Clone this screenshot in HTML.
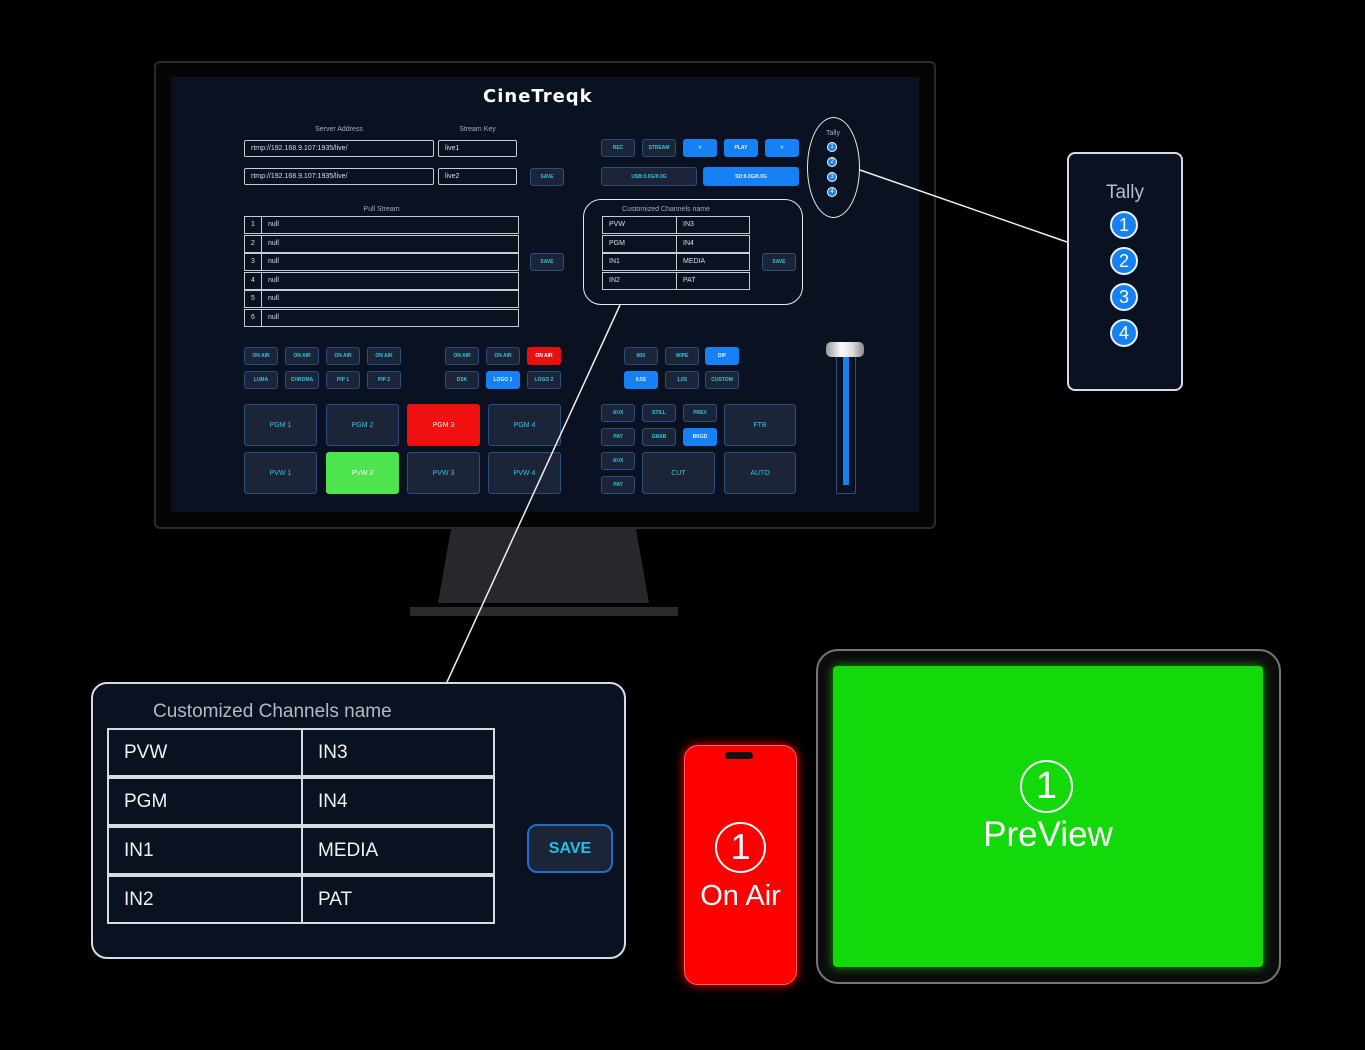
<!DOCTYPE html>
<html><head><meta charset="utf-8"><style>
*{margin:0;padding:0;box-sizing:border-box}
body{width:1365px;height:1050px;background:#000;position:relative;overflow:hidden;font-family:"Liberation Sans",sans-serif}
.a{position:absolute}
.b{position:absolute;height:18px;width:34px;background:#1b2537;border:1px solid #2b4e80;border-radius:3px;color:#2ec6ea;font-size:5px;font-weight:bold;display:flex;align-items:center;justify-content:center;white-space:nowrap}
.bl{background:#1680f5;border-color:#1680f5;color:#e8f4ff}
.big{width:73px;height:42px;font-size:7px;font-weight:normal}
.in{position:absolute;height:17px;border:1px solid #c8ccd2;border-radius:2px;color:#dde;font-size:7px;padding-left:6px;line-height:15px;background:#0a1120}
.lbl{position:absolute;color:#aab;font-size:7px;text-align:center}
.row{position:absolute;left:244px;width:275px;height:18px;border:1px solid #c8ccd2;color:#dde;font-size:7px;line-height:16px}
.row span{display:inline-block;width:17px;text-align:center;border-right:1px solid #c8ccd2;margin-right:6px}
.ct{position:absolute;border:1px solid #c8ccd2;color:#dde;font-size:7px;line-height:16px;padding-left:6px;height:18px}
.bt{position:absolute;border:2px solid #d8dce2;color:#f2f2f2;font-size:19px;height:49px;line-height:45px;padding-left:15px}
.tc{position:absolute;width:28px;height:28px;border-radius:50%;background:#1680f5;border:2px solid #e8f0ff;color:#fff;font-size:18px;text-align:center;line-height:24px}
</style></head><body>
<!-- monitor -->
<div class="a" style="left:154px;top:61px;width:782px;height:468px;background:#050505;border:2px solid #2a2a2c;border-radius:6px"></div>
<div class="a" style="left:171px;top:77px;width:748px;height:435px;background:#0a1120"></div>
<svg class="a" style="left:0;top:0" width="1365" height="1050">
<polygon points="451,529 636,529 649,603 438,603" fill="#27282c"/>
<rect x="410" y="607" width="268" height="9" fill="#2a2b2f"/>
</svg>
<div class="a" style="left:483px;top:86px;color:#fff;font-size:18px;font-weight:bold;letter-spacing:1px;font-family:'DejaVu Sans',sans-serif">CineTreqk</div>

<div class="lbl" style="left:244px;top:126px;width:190px">Server Address</div>
<div class="lbl" style="left:438px;top:126px;width:79px">Stream Key</div>
<div class="in" style="left:244px;top:140px;width:190px">rtmp://192.168.9.107:1935/live/</div>
<div class="in" style="left:438px;top:140px;width:79px">live1</div>
<div class="in" style="left:244px;top:168px;width:190px">rtmp://192.168.9.107:1935/live/</div>
<div class="in" style="left:438px;top:168px;width:79px">live2</div>
<div class="b" style="left:530px;top:168px">SAVE</div>

<div class="b" style="left:601px;top:139px">REC</div>
<div class="b" style="left:642px;top:139px">STREAM</div>
<div class="b bl" style="left:683px;top:139px">&lt;</div>
<div class="b bl" style="left:724px;top:139px">PLAY</div>
<div class="b bl" style="left:765px;top:139px">&gt;</div>
<div class="b" style="left:601px;top:167px;width:96px;height:19px">USB:0.0G/0.0G</div>
<div class="b bl" style="left:703px;top:167px;width:96px;height:19px">SD:0.0G/0.0G</div>

<div class="a" style="left:807px;top:117px;width:53px;height:101px;border:1.5px solid #e8e8e8;border-radius:50%"></div>
<div class="lbl" style="left:807px;top:130px;width:52px;font-size:7px">Tally</div>
<div class="a" style="left:827px;top:142px;width:10px;height:10px;border-radius:50%;background:#1680f5;border:1px solid #fff;color:#fff;font-size:6px;text-align:center;line-height:8px">1</div>
<div class="a" style="left:827px;top:157px;width:10px;height:10px;border-radius:50%;background:#1680f5;border:1px solid #fff;color:#fff;font-size:6px;text-align:center;line-height:8px">2</div>
<div class="a" style="left:827px;top:172px;width:10px;height:10px;border-radius:50%;background:#1680f5;border:1px solid #fff;color:#fff;font-size:6px;text-align:center;line-height:8px">3</div>
<div class="a" style="left:827px;top:187px;width:10px;height:10px;border-radius:50%;background:#1680f5;border:1px solid #fff;color:#fff;font-size:6px;text-align:center;line-height:8px">4</div>

<div class="lbl" style="left:244px;top:206px;width:275px">Pull Stream</div>
<div class="row" style="top:216px"><span>1</span>null</div>
<div class="row" style="top:235px"><span>2</span>null</div>
<div class="row" style="top:253px"><span>3</span>null</div>
<div class="row" style="top:272px"><span>4</span>null</div>
<div class="row" style="top:290px"><span>5</span>null</div>
<div class="row" style="top:309px"><span>6</span>null</div>
<div class="b" style="left:530px;top:253px">SAVE</div>

<div class="a" style="left:583px;top:199px;width:220px;height:106px;border:1.5px solid #e8e8e8;border-radius:18px"></div>
<div class="lbl" style="left:583px;top:206px;width:166px">Customized Channels name</div>
<div class="ct" style="left:602px;top:216px;width:75px">PVW</div><div class="ct" style="left:676px;top:216px;width:74px">IN3</div>
<div class="ct" style="left:602px;top:235px;width:75px">PGM</div><div class="ct" style="left:676px;top:235px;width:74px">IN4</div>
<div class="ct" style="left:602px;top:253px;width:75px">IN1</div><div class="ct" style="left:676px;top:253px;width:74px">MEDIA</div>
<div class="ct" style="left:602px;top:272px;width:75px">IN2</div><div class="ct" style="left:676px;top:272px;width:74px">PAT</div>
<div class="b" style="left:762px;top:253px">SAVE</div>

<div class="b" style="left:244px;top:347px">ON AIR</div>
<div class="b" style="left:285px;top:347px">ON AIR</div>
<div class="b" style="left:326px;top:347px">ON AIR</div>
<div class="b" style="left:367px;top:347px">ON AIR</div>
<div class="b" style="left:244px;top:371px">LUMA</div>
<div class="b" style="left:285px;top:371px">CHROMA</div>
<div class="b" style="left:326px;top:371px">PIP 1</div>
<div class="b" style="left:367px;top:371px">PIP 2</div>
<div class="b" style="left:445px;top:347px">ON AIR</div>
<div class="b" style="left:486px;top:347px">ON AIR</div>
<div class="b" style="left:527px;top:347px;background:#e81010;border-color:#e81010;color:#fff">ON AIR</div>
<div class="b" style="left:445px;top:371px">DSK</div>
<div class="b bl" style="left:486px;top:371px">LOGO 1</div>
<div class="b" style="left:527px;top:371px">LOGO 2</div>
<div class="b" style="left:624px;top:347px">MIX</div>
<div class="b" style="left:665px;top:347px">WIPE</div>
<div class="b bl" style="left:705px;top:347px">DIP</div>
<div class="b bl" style="left:624px;top:371px">0.5S</div>
<div class="b" style="left:665px;top:371px">1.0S</div>
<div class="b" style="left:705px;top:371px">CUSTOM</div>

<div class="b big" style="left:244px;top:404px">PGM 1</div>
<div class="b big" style="left:326px;top:404px">PGM 2</div>
<div class="b big" style="left:407px;top:404px;background:#f01010;border-color:#f01010;color:#fff">PGM 3</div>
<div class="b big" style="left:488px;top:404px">PGM 4</div>
<div class="b big" style="left:244px;top:452px">PVW 1</div>
<div class="b big" style="left:326px;top:452px;background:#4ee44e;border-color:#4ee44e;color:#fff">PVW 2</div>
<div class="b big" style="left:407px;top:452px">PVW 3</div>
<div class="b big" style="left:488px;top:452px">PVW 4</div>

<div class="b" style="left:601px;top:404px">AUX</div>
<div class="b" style="left:642px;top:404px">STILL</div>
<div class="b" style="left:683px;top:404px">PREV</div>
<div class="b big" style="left:724px;top:404px;width:72px">FTB</div>
<div class="b" style="left:601px;top:428px">PAT</div>
<div class="b" style="left:642px;top:428px">GRAB</div>
<div class="b bl" style="left:683px;top:428px">BKGD</div>
<div class="b" style="left:601px;top:452px">AUX</div>
<div class="b" style="left:601px;top:476px">PAT</div>
<div class="b big" style="left:642px;top:452px">CUT</div>
<div class="b big" style="left:724px;top:452px;width:72px">AUTO</div>

<div class="a" style="left:836px;top:355px;width:20px;height:139px;border:1px solid #2b4e80;border-radius:2px"></div>
<div class="a" style="left:843px;top:357px;width:6px;height:128px;background:#1680f5"></div>
<div class="a" style="left:826px;top:342px;width:38px;height:15px;border-radius:5px;background:linear-gradient(90deg,#999,#fafafa 40%,#ddd 70%,#888)"></div>

<!-- connector lines -->
<svg class="a" style="left:0;top:0" width="1365" height="1050">
<line x1="860" y1="170" x2="1067" y2="242" stroke="#eee" stroke-width="1.5"/>
<line x1="620" y1="305" x2="447" y2="682" stroke="#eee" stroke-width="1.5"/>
</svg>

<!-- tally panel -->
<div class="a" style="left:1067px;top:152px;width:116px;height:239px;border:2px solid #d8dce2;border-radius:8px;background:#0a1120"></div>
<div class="a" style="left:1067px;top:182px;width:116px;text-align:center;color:#bbc;font-size:19px">Tally</div>
<div class="tc" style="left:1110px;top:211px">1</div>
<div class="tc" style="left:1110px;top:247px">2</div>
<div class="tc" style="left:1110px;top:283px">3</div>
<div class="tc" style="left:1110px;top:319px">4</div>

<!-- big channel panel -->
<div class="a" style="left:91px;top:682px;width:535px;height:277px;border:2px solid #d8dce2;border-radius:16px;background:#0a1120"></div>
<div class="a" style="left:153px;top:701px;color:#b4b8c4;font-size:19px">Customized Channels name</div>
<div class="bt" style="left:107px;top:728px;width:196px">PVW</div><div class="bt" style="left:301px;top:728px;width:194px">IN3</div>
<div class="bt" style="left:107px;top:777px;width:196px">PGM</div><div class="bt" style="left:301px;top:777px;width:194px">IN4</div>
<div class="bt" style="left:107px;top:826px;width:196px">IN1</div><div class="bt" style="left:301px;top:826px;width:194px">MEDIA</div>
<div class="bt" style="left:107px;top:875px;width:196px">IN2</div><div class="bt" style="left:301px;top:875px;width:194px">PAT</div>
<div class="a" style="left:527px;top:824px;width:86px;height:49px;border:2px solid #1d6fd0;border-radius:10px;background:#1b2537;color:#22c0e8;font-weight:bold;font-size:16px;text-align:center;line-height:45px">SAVE</div>

<!-- phone -->
<div class="a" style="left:684px;top:745px;width:113px;height:240px;background:#ff0000;border-radius:14px;border:1px solid #ff6060;box-shadow:0 0 10px #f00"></div>
<div class="a" style="left:725px;top:752px;width:28px;height:7px;border-radius:4px;background:#111"></div>
<div class="a" style="left:715px;top:822px;width:51px;height:51px;border:2px solid #fff;border-radius:50%;color:#fff;font-size:36px;text-align:center;line-height:46px">1</div>
<div class="a" style="left:684px;top:880px;width:113px;text-align:center;color:#fff;font-size:29px">On Air</div>

<!-- tablet -->
<div class="a" style="left:816px;top:649px;width:465px;height:335px;background:#0c0c0c;border:2px solid #777;border-radius:22px"></div>
<div class="a" style="left:833px;top:666px;width:430px;height:301px;background:#13d90a;border-radius:4px;box-shadow:0 0 10px #1a9a10"></div>
<div class="a" style="left:1020px;top:760px;width:53px;height:53px;border:2px solid #fff;border-radius:50%;color:#fff;font-size:38px;text-align:center;line-height:48px">1</div>
<div class="a" style="left:833px;top:815px;width:430px;text-align:center;color:#fff;font-size:35px">PreView</div>
</body></html>
